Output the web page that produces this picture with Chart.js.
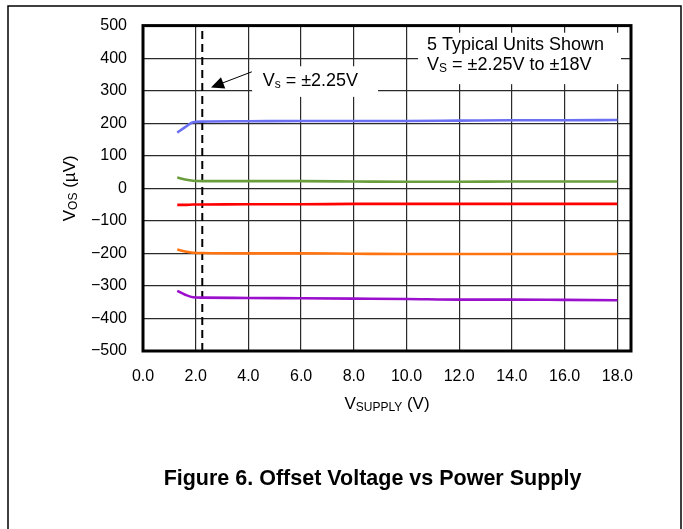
<!DOCTYPE html>
<html>
<head>
<meta charset="utf-8">
<script src="https://cdn.jsdelivr.net/npm/chart.js@4.4.1/dist/chart.umd.min.js"></script>
<style>
html,body{margin:0;padding:0;background:#fff;}
canvas{display:block;}
</style>
</head>
<body>
<canvas id="c" width="683" height="529"></canvas>
<script>
// ---- data ----
const supplyV = [1.3, 1.6, 1.9, 2.25, 4, 6, 8, 10, 12, 14, 16, 18];
const unit1 = [171, 188, 203, 205, 206, 207, 207, 207, 208, 209, 209, 210];
const unit2 = [33, 27, 23, 22, 22, 22, 21, 20, 20, 21, 21, 21];
const unit3 = [-51, -51, -50, -50, -49, -49, -48, -48, -48, -48, -48, -48];
const unit4 = [-188, -194, -198, -199, -200, -200, -201, -202, -202, -202, -202, -202];
const unit5 = [-315, -327, -335, -336, -337, -338, -339, -340, -342, -342, -343, -344];
const markerV = 2.25;
const xTicks = [0, 2, 4, 6, 8, 10, 12, 14, 16, 18];
const yTicks = [-500, -400, -300, -200, -100, 0, 100, 200, 300, 400, 500];

const colors = ['#6b6ff2', '#6a9e3c', '#ff0000', '#ff7410', '#9a10cc'];
const series = [unit1, unit2, unit3, unit4, unit5];

const FONT = '"Liberation Sans", Arial, sans-serif';

function pts(arr){ return arr.map((v,i)=>({x:supplyV[i], y:v})); }

const datasets = series.map((s,i)=>({
  data: pts(s), borderColor: colors[i], borderWidth: 2.6, pointRadius: 0,
  fill:false, cubicInterpolationMode:'monotone'
}));
datasets.push({
  data:[{x:markerV,y:-500},{x:markerV,y:500}], borderColor:'#000', borderWidth:2,
  borderDash:[8,5], pointRadius:0, fill:false
});

function drawSub(ctx, x, y, parts, align){
  let total = 0;
  parts.forEach(p=>{ ctx.font = p[1]+'px '+FONT; total += ctx.measureText(p[0]).width; });
  let cx = align==='center' ? x - total/2 : x;
  ctx.textAlign='left'; ctx.textBaseline='middle';
  parts.forEach(p=>{ ctx.font = p[1]+'px '+FONT; ctx.fillText(p[0], cx, y + p[2]); cx += ctx.measureText(p[0]).width; });
}

const deco = {
  id:'deco',
  afterDatasetsDraw(chart){
    const ctx = chart.ctx, xs = chart.scales.x, ys = chart.scales.y, a = chart.chartArea;
    const X = v=>xs.getPixelForValue(v), Y = v=>ys.getPixelForValue(v);
    ctx.save();
    // box 1
    ctx.fillStyle='#fff';
    ctx.fillRect(X(10.44), Y(478), X(18.14)-X(10.44), Y(320)-Y(478));
    ctx.fillStyle='#000';
    drawSub(ctx, X(10.78), Y(441), [['5 Typical Units Shown',18,0]], 'left');
    drawSub(ctx, X(10.78), Y(380), [['V',18,0],['S',12,4],[' = \u00b12.25V to \u00b118V',18,0]], 'left');
    // box 2
    ctx.fillStyle='#fff';
    ctx.fillRect(X(4.14), Y(375), X(8.92)-X(4.14), Y(281)-Y(375));
    ctx.fillStyle='#000';
    drawSub(ctx, X(4.54), Y(331), [['V',18,0],['s',12,4],[' = \u00b12.25V',18,0]], 'left');
    // arrow
    const x0=X(4.13), y0=Y(358), x1=X(2.58), y1=Y(310);
    const ang = Math.atan2(y1-y0, x1-x0);
    ctx.strokeStyle='#000'; ctx.lineWidth=1;
    ctx.beginPath(); ctx.moveTo(x0,y0); ctx.lineTo(x1-Math.cos(ang)*10, y1-Math.sin(ang)*10); ctx.stroke();
    ctx.beginPath();
    ctx.moveTo(x1,y1);
    ctx.lineTo(x1-Math.cos(ang)*13+Math.sin(ang)*6, y1-Math.sin(ang)*13-Math.cos(ang)*6);
    ctx.lineTo(x1-Math.cos(ang)*13-Math.sin(ang)*6, y1-Math.sin(ang)*13+Math.cos(ang)*6);
    ctx.closePath(); ctx.fill();
    // plot border
    ctx.lineWidth=3; ctx.strokeStyle='#000';
    ctx.strokeRect(a.left, a.top, a.right-a.left, a.bottom-a.top);
    ctx.restore();
  },
  afterDraw(chart){
    const ctx = chart.ctx, a = chart.chartArea;
    ctx.save();
    ctx.fillStyle='#000';
    // outer frame
    ctx.strokeStyle='#000'; ctx.lineWidth=1.5;
    ctx.beginPath();
    ctx.moveTo(8,529); ctx.lineTo(8,6); ctx.lineTo(681,6); ctx.lineTo(681,529);
    ctx.stroke();
    // x title
    drawSub(ctx, (a.left+a.right)/2, 404, [['V',17,0],['SUPPLY',12,4],[' (V)',17,0]], 'center');
    // y title
    ctx.save();
    ctx.translate(70, (a.top+a.bottom)/2);
    ctx.rotate(-Math.PI/2);
    drawSub(ctx, 0, 0, [['V',17,0],['OS',12,4],[' (\u00b5V)',17,0]], 'center');
    ctx.restore();
    // figure caption
    ctx.font='bold 21.5px '+FONT; ctx.textAlign='center'; ctx.textBaseline='middle';
    ctx.fillText('Figure 6. Offset Voltage vs Power Supply', 372.5, 479);
    ctx.restore();
  }
};

new Chart(document.getElementById('c'), {
  type:'line',
  data:{datasets},
  options:{
    responsive:false, animation:false, events:[],
    layout:{padding:{left:0, right:52, top:21, bottom:0}},
    plugins:{legend:{display:false}, tooltip:{enabled:false}, title:{display:false}},
    scales:{
      x:{type:'linear', min:0, max:18.52,
        afterBuildTicks(s){ s.ticks = xTicks.map(v=>({value:v})); },
        afterFit(s){ s.height = 178; },
        grid:{color:'#2a2a2a', lineWidth:1.2, drawTicks:false},
        border:{display:false},
        ticks:{color:'#000', padding:16, font:{family:FONT, size:16}, maxRotation:0,
          callback:v=>v.toFixed(1)}
      },
      y:{type:'linear', min:-500, max:500,
        afterBuildTicks(s){ s.ticks = yTicks.map(v=>({value:v})); },
        afterFit(s){ s.width = 143; },
        grid:{color:'#2a2a2a', lineWidth:1.2, drawTicks:false},
        border:{display:false},
        ticks:{color:'#000', padding:16, font:{family:FONT, size:16},
          callback:v=> v<0 ? '\u2212'+Math.abs(v) : String(v)}
      }
    }
  },
  plugins:[deco]
});
</script>
</body>
</html>
